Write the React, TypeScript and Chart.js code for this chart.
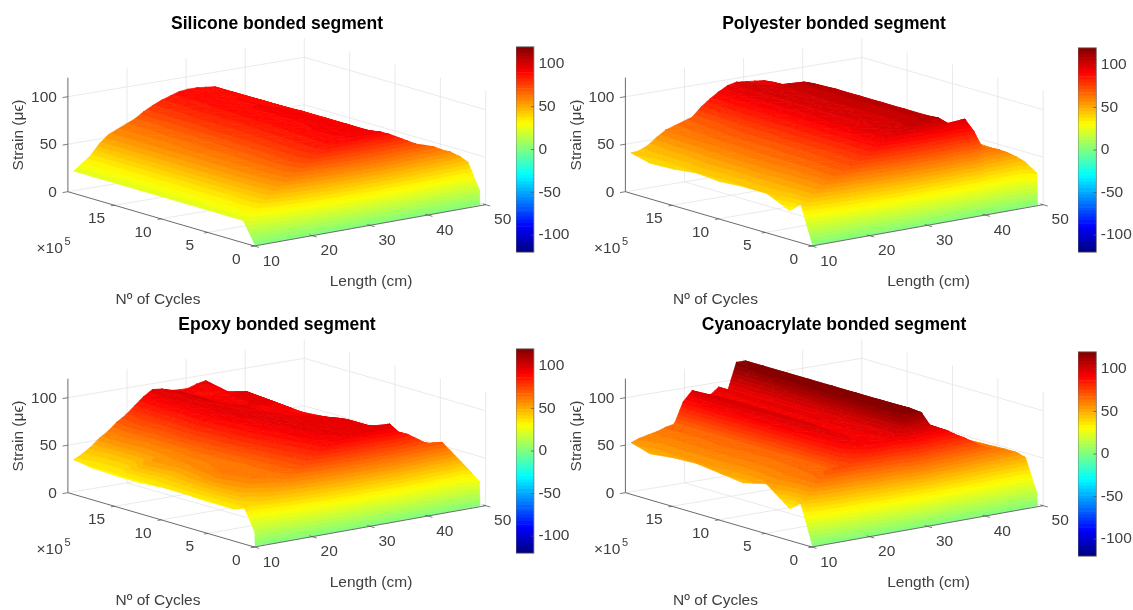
import React, { useEffect, useRef } from "react";
import { Chart, registerables } from "chart.js";

Chart.register(...registerables);

// ---------- data ----------
const lengthCm = [10.2, 11.5, 13, 14.5, 16, 17.5, 19, 20.5, 22, 23.5, 25, 26.5, 28, 29.5, 31, 32.5, 34, 35.5, 37, 38.5, 40, 41.5, 43, 44.5, 46, 47.5, 49];
const cyclesE5 = [0, 0.05, 1.3, 2.5, 5, 7.5, 10, 12.5, 15, 17.5, 19.5];

const lengthTicks = [10, 20, 30, 40, 50];
const cycleTicks = [0, 5, 10, 15];
const strainTicks = [0, 50, 100];
const colorTicks = [-100, -50, 0, 50, 100];

const startRow = [1, 1, 1, 1, 1, 1, 1, 1, 1, 1, 1, 1, 1, 1, 1, 1, 1, 1, 1, 1, 1, 1, 1, 1, 1, 1, 1];

const silicone = [
  startRow,
  [1, 1, 1, 1, 1, 1, 1, 1, 1, 1, 1, 1, 1, 1, 1, 1, 1, 1, 1, 1, 1, 1, 1, 1, 1, 5, 16],
  [23, 30, 37, 44, 52, 58, 64, 70, 76, 80, 84, 87, 89, 91, 92, 92, 90, 86, 81, 76, 71, 68, 65, 60, 56, 50, 42],
  [23, 30, 38, 46, 54, 60, 66, 72, 78, 82, 86, 88, 90, 91, 92, 91, 88, 82, 76, 71, 66, 62, 59, 55, 51, 46, 39],
  [23, 29, 37, 47, 55, 60, 66, 71, 77, 81, 85, 88, 90, 91, 91, 91, 88, 83, 77, 71, 66, 62, 58, 54, 50, 45, 38],
  [23, 29, 37, 47, 55, 60, 65, 70, 76, 80, 84, 87, 89, 90, 91, 90, 88, 83, 77, 71, 66, 61, 57, 53, 49, 45, 38],
  [23, 29, 36, 47, 55, 60, 65, 69, 75, 79, 83, 87, 89, 90, 90, 90, 88, 83, 77, 71, 66, 61, 57, 53, 49, 45, 38],
  [23, 29, 36, 47, 55, 60, 64, 68, 75, 79, 83, 86, 89, 90, 90, 89, 87, 83, 77, 71, 66, 61, 57, 53, 49, 45, 38],
  [23, 29, 36, 47, 55, 59, 64, 68, 74, 79, 83, 86, 88, 89, 90, 89, 87, 83, 77, 71, 66, 61, 57, 53, 49, 45, 38],
  [23, 29, 36, 47, 55, 59, 63, 67, 74, 78, 82, 85, 88, 89, 89, 88, 87, 82, 76, 71, 66, 61, 57, 52, 48, 43, 38],
  [23, 29, 36, 47, 55, 59, 63, 67, 73, 78, 82, 85, 88, 89, 89, 88, 87, 82, 76, 71, 66, 61, 57, 52, 48, 43, 38],
];

const polyester = [
  startRow,
  [1, 1, 1, 1, 1, 1, 1, 1, 1, 1, 1, 1, 1, 1, 1, 1, 1, 1, 1, 1, 1, 1, 1, 1, 4, 12, 34],
  [40, 45, 52, 58, 64, 68, 72, 76, 82, 88, 94, 98, 100, 103, 106, 106, 105, 98, 90, 99, 85, 66, 62, 60, 55, 49, 42],
  [30, 44, 52, 58, 64, 68, 72, 76, 82, 88, 94, 98, 99, 101, 104, 106, 104, 98, 92, 88, 82, 66, 62, 59, 55, 49, 42],
  [41, 46, 52, 58, 63, 67, 71, 75, 82, 88, 94, 97, 98, 100, 103, 106, 104, 98, 93, 89, 83, 68, 63, 60, 56, 50, 43],
  [41, 46, 53, 58, 63, 67, 70, 75, 82, 88, 94, 97, 99, 100, 103, 106, 104, 98, 93, 89, 84, 68, 63, 60, 57, 50, 43],
  [39, 45, 52, 58, 63, 66, 70, 75, 81, 87, 93, 97, 99, 101, 104, 106, 104, 98, 93, 89, 84, 69, 64, 61, 57, 51, 43],
  [41, 46, 52, 57, 62, 66, 70, 74, 81, 87, 93, 97, 99, 100, 103, 106, 104, 98, 93, 89, 84, 70, 65, 61, 57, 51, 43],
  [38, 44, 50, 56, 62, 65, 69, 73, 80, 87, 93, 97, 99, 100, 103, 106, 103, 97, 92, 88, 83, 70, 65, 61, 57, 51, 44],
  [37, 44, 49, 55, 61, 64, 67, 70, 79, 86, 92, 97, 99, 98, 97, 96, 93, 88, 84, 80, 76, 70, 66, 62, 58, 52, 44],
  [42, 43, 47, 54, 60, 63, 66, 69, 78, 85, 91, 96, 98, 97, 96, 95, 92, 88, 84, 80, 76, 70, 66, 62, 58, 52, 44],
];

const epoxy = [
  startRow,
  [15, 2, 1, 1, 1, 1, 1, 1, 1, 1, 1, 1, 1, 1, 1, 1, 1, 1, 1, 1, 1, 1, 1, 1, 2, 10, 26],
  [40, 36, 40, 46, 52, 60, 66, 72, 78, 84, 88, 92, 94, 95, 95, 96, 97, 98, 88, 84, 78, 72, 68, 69, 58, 47, 36],
  [33, 48, 56, 60, 62, 64, 68, 74, 80, 86, 90, 94, 96, 97, 97, 97, 94, 90, 84, 80, 76, 70, 66, 64, 56, 46, 38],
  [33, 56, 62, 62, 62, 64, 70, 78, 84, 90, 94, 96, 97, 97, 97, 97, 94, 86, 82, 78, 74, 69, 64, 62, 56, 47, 38],
  [34, 50, 58, 60, 62, 66, 74, 82, 88, 92, 95, 96, 95, 94, 94, 92, 90, 84, 80, 76, 72, 68, 63, 60, 55, 47, 38],
  [34, 44, 54, 58, 62, 68, 76, 84, 90, 94, 96, 95, 94, 92, 92, 89, 88, 82, 78, 75, 71, 66, 62, 58, 54, 46, 38],
  [32, 50, 54, 56, 60, 70, 78, 86, 92, 95, 97, 95, 94, 94, 95, 95, 90, 80, 76, 73, 70, 65, 60, 57, 53, 46, 38],
  [32, 38, 44, 54, 60, 68, 76, 84, 91, 96, 98, 93, 91, 92, 95, 97, 90, 80, 76, 73, 71, 66, 60, 57, 52, 46, 38],
  [33, 38, 44, 56, 62, 70, 76, 84, 92, 97, 98, 93, 90, 89, 89, 90, 86, 80, 76, 74, 73, 65, 58, 56, 50, 44, 36],
  [36, 40, 46, 54, 60, 68, 74, 82, 90, 96, 95, 92, 91, 91, 94, 96, 86, 81, 77, 74, 74, 70, 60, 56, 50, 45, 34],
];

const cyanoacrylate = [
  startRow,
  [1, 1, 1, 1, 1, 1, 1, 1, 1, 1, 1, 1, 1, 1, 1, 1, 1, 1, 1, 1, 1, 1, 1, 1, 1, 4, 14],
  [42, 52, 62, 68, 72, 74, 76, 82, 88, 92, 92, 96, 115, 118, 115, 100, 95, 91, 85, 80, 74, 68, 64, 62, 58, 55, 48],
  [33, 52, 60, 64, 66, 68, 84, 94, 92, 90, 93, 97, 118, 120, 116, 101, 96, 91, 85, 80, 74, 68, 64, 62, 58, 55, 48],
  [52, 56, 60, 63, 65, 67, 88, 98, 93, 90, 95, 96, 120, 120, 114, 101, 96, 91, 85, 80, 74, 68, 64, 61, 57, 54, 47],
  [46, 54, 58, 62, 64, 66, 90, 100, 94, 90, 96, 94, 120, 120, 112, 100, 95, 90, 84, 79, 73, 67, 63, 60, 56, 53, 46],
  [49, 54, 58, 62, 64, 66, 90, 100, 94, 90, 97, 93, 120, 120, 110, 99, 94, 89, 84, 78, 72, 66, 62, 60, 56, 52, 46],
  [52, 55, 58, 62, 65, 66, 90, 100, 92, 89, 97, 92, 120, 120, 108, 98, 93, 88, 83, 78, 72, 66, 62, 60, 55, 52, 45],
  [51, 55, 58, 62, 64, 66, 91, 100, 91, 89, 97, 92, 120, 120, 108, 98, 92, 88, 82, 77, 71, 65, 61, 59, 55, 51, 45],
  [48, 54, 58, 61, 64, 65, 90, 99, 90, 89, 97, 91, 120, 120, 107, 97, 92, 87, 82, 76, 70, 65, 61, 58, 54, 51, 44],
  [54, 57, 59, 61, 64, 66, 88, 98, 90, 90, 97, 91, 120, 120, 106, 97, 91, 86, 81, 75, 70, 64, 60, 58, 54, 50, 44],
];

// ---------- layout and style ----------
const FONT = "'Liberation Sans', Arial, sans-serif";
const TEXT = "#404040";
const GRID = "#e4e4e4";
const AXIS = "#5a5a5a";
const TITLE_SIZE = 17.5;
const TITLE_PAD = 14;
const TITLE_H = TITLE_PAD + TITLE_SIZE * 1.2;
const TICK_SIZE = 15.5;
const COLOR_MAX = 120;
const LEVELS = 64;
const Z_PX = 0.95;
// floor corners of the first panel, page pixels
const CORNER = { A: [67.9, 191.7], D: [304.3, 152.3], B: [254.3, 246], C: [485.7, 204.7] };

const panels = [
  { title: "Silicone bonded segment", grid: silicone, left: 0, top: 0, w: 554, h: 310, dx: 0, dy: 0, bar: [515.7, 45, 17.9, 209] },
  { title: "Polyester bonded segment", grid: polyester, left: 560, top: 0, w: 548, h: 310, dx: 557.5, dy: 0, bar: [1078.3, 45.7, 18.3, 208.6] },
  { title: "Epoxy bonded segment", grid: epoxy, left: 0, top: 301, w: 554, h: 309, dx: 0, dy: 301, bar: [515.7, 347.3, 17.9, 208] },
  { title: "Cyanoacrylate bonded segment", grid: cyanoacrylate, left: 560, top: 301, w: 548, h: 309, dx: 557.5, dy: 301, bar: [1077.5, 350, 18.3, 208.3] },
];

type P = (typeof panels)[number];

function jet(level: number) {
  const v = (level + 0.5) / LEVELS;
  const c = (t: number) => Math.round(255 * Math.max(0, Math.min(1, 1.5 - Math.abs(4 * v - t))));
  return `rgb(${c(3)},${c(2)},${c(1)})`;
}

function project(p: P, x: number, y: number, z: number) {
  const u = (x - 10) / 40;
  const v = 1 - y / 20;
  const at = (k: number) =>
    CORNER.A[k] * (1 - u) * (1 - v) + CORNER.D[k] * u * (1 - v) + CORNER.B[k] * (1 - u) * v + CORNER.C[k] * u * v;
  return { x: at(0) + p.dx - p.left, y: at(1) + p.dy - p.top - z * Z_PX };
}

type V = [number, number, number];

function clipZ(poly: V[], limit: number, above: boolean) {
  const out: V[] = [];
  const inside = (a: V) => (above ? a[2] >= limit : a[2] <= limit);
  for (let i = 0; i < poly.length; i++) {
    const a = poly[i];
    const b = poly[(i + 1) % poly.length];
    if (inside(a)) out.push(a);
    if (inside(a) !== inside(b)) {
      const t = (limit - a[2]) / (b[2] - a[2]);
      out.push([a[0] + t * (b[0] - a[0]), a[1] + t * (b[1] - a[1]), limit]);
    }
  }
  return out;
}

const levelOf = (z: number) =>
  Math.max(0, Math.min(LEVELS - 1, Math.floor(((z + COLOR_MAX) / (2 * COLOR_MAX)) * LEVELS)));

function polyDataset(points: { x: number; y: number }[], color: string, width: number, fill: boolean) {
  return {
    data: points,
    showLine: true,
    fill: fill ? "shape" : false,
    backgroundColor: color,
    borderColor: color,
    borderWidth: width,
    pointRadius: 0,
    tension: 0,
    clip: false,
    borderJoinStyle: "round",
  };
}

function triangleBands(p: P, tri: V[], out: any[]) {
  const zs = tri.map((t) => t[2]);
  const lo = levelOf(Math.min(...zs));
  const hi = levelOf(Math.max(...zs));
  for (let k = lo; k <= hi; k++) {
    let poly: V[] = tri;
    if (k > lo) poly = clipZ(poly, -COLOR_MAX + (k * 2 * COLOR_MAX) / LEVELS, true);
    if (k < hi) poly = clipZ(poly, -COLOR_MAX + ((k + 1) * 2 * COLOR_MAX) / LEVELS, false);
    if (poly.length < 3) continue;
    const pts = poly.map((q) => project(p, q[0], q[1], q[2]));
    pts.push(pts[0]);
    out.push(polyDataset(pts, jet(k), 0.7, true));
  }
}

function buildDatasets(p: P) {
  const back: any[] = [];
  const line = (a: number[], b: number[], color: string, width: number) =>
    back.push(polyDataset([project(p, a[0], a[1], a[2]), project(p, b[0], b[1], b[2])], color, width, false));

  // walls and floor
  for (const x of lengthTicks) {
    if (x > 10) line([x, 20, 0], [x, 20, COLOR_MAX], GRID, 0.8);
    if (x > 10 && x < 50) line([x, 0, 0], [x, 20, 0], GRID, 0.8);
  }
  for (const y of cycleTicks) {
    line([50, y, 0], [50, y, COLOR_MAX], GRID, 0.8);
    if (y > 0) line([10, y, 0], [50, y, 0], GRID, 0.8);
  }
  for (const z of strainTicks) {
    line([10, 20, z], [50, 20, z], GRID, 0.8);
    line([50, 20, z], [50, 0, z], GRID, 0.8);
  }

  // surface, far corner first
  const g = p.grid;
  for (let j = cyclesE5.length - 2; j >= 0; j--) {
    for (let i = lengthCm.length - 2; i >= 0; i--) {
      const v = (a: number, b: number): V => [lengthCm[a], cyclesE5[b], g[b][a]];
      triangleBands(p, [v(i + 1, j), v(i + 1, j + 1), v(i, j + 1)], back);
      triangleBands(p, [v(i, j), v(i + 1, j), v(i, j + 1)], back);
    }
  }

  // axes on top
  line([10, 20, 0], [10, 0, 0], AXIS, 0.9);
  line([10, 0, 0], [50, 0, 0], AXIS, 0.9);
  line([10, 20, 0], [10, 20, COLOR_MAX], AXIS, 0.9);
  for (const x of lengthTicks) line([x, -0.5, 0], [x, 0.3, 0], AXIS, 0.8);
  for (const y of cycleTicks) line([9.4, y, 0], [10.1, y, 0], AXIS, 0.8);
  for (const z of strainTicks) line([9.1, 20, z], [10, 20, z], AXIS, 0.8);

  return back.reverse();
}

const axisText = {
  id: "axisText",
  afterDraw(chart: any, _a: any, opts: any) {
    const p: P = opts.panel;
    const ctx = chart.ctx;
    const sx = chart.scales.x;
    const sy = chart.scales.y;
    const put = (s: string, px: number, py: number, align: CanvasTextAlign = "center", size = TICK_SIZE) => {
      ctx.font = `${size}px ${FONT}`;
      ctx.fillStyle = TEXT;
      ctx.textAlign = align;
      ctx.textBaseline = "middle";
      ctx.fillText(s, sx.getPixelForValue(px), sy.getPixelForValue(py));
    };
    ctx.save();
    for (const x of lengthTicks) {
      const q = project(p, x, 0, 0);
      put(String(x), q.x + 17, q.y + 15.5);
    }
    for (const y of cycleTicks) {
      const q = project(p, 10, y, 0);
      put(String(y), q.x - 18, q.y + 13.5);
    }
    for (const z of strainTicks) {
      const q = project(p, 10, 20, z);
      put(String(z), q.x - 11, q.y + 1, "right");
    }
    const ox = p.dx - p.left;
    const oy = p.dy - p.top;
    put("×10", 36.5 + ox, 249 + oy, "left");
    put("5", 67.5 + ox, 242 + oy, "center", 11);
    put("Length (cm)", 371 + ox, 281.5 + oy);
    put("Nº of Cycles", 158 + ox, 300 + oy);
    ctx.save();
    ctx.translate(sx.getPixelForValue(19 + ox), sy.getPixelForValue(135 + oy));
    ctx.rotate(-Math.PI / 2);
    ctx.font = `${TICK_SIZE}px ${FONT}`;
    ctx.fillStyle = TEXT;
    ctx.textAlign = "center";
    ctx.textBaseline = "middle";
    ctx.fillText("Strain (μϵ)", 0, 0);
    ctx.restore();
    ctx.restore();
  },
};

const barFrame = {
  id: "barFrame",
  afterDraw(chart: any) {
    const { left, top, width, height } = chart.chartArea;
    const ctx = chart.ctx;
    ctx.save();
    ctx.strokeStyle = "#707070";
    ctx.lineWidth = 0.8;
    ctx.strokeRect(left, top, width, height);
    ctx.restore();
    const y = chart.scales.y;
    ctx.save();
    ctx.strokeStyle = "#505050";
    ctx.lineWidth = 0.7;
    for (const t of colorTicks) {
      const py = y.getPixelForValue(t);
      ctx.beginPath();
      ctx.moveTo(left + width - 3, py);
      ctx.lineTo(left + width, py);
      ctx.stroke();
    }
    ctx.restore();
  },
};

const BAR_PAD = 12;
const BAR_CANVAS_W = 58;

function makeBar(canvas: HTMLCanvasElement, p: P) {
  const levels = Array.from({ length: LEVELS }, (_, k) => k);
  const step = (2 * COLOR_MAX) / LEVELS;
  return new Chart(canvas, {
    type: "bar",
    data: {
      labels: [""],
      datasets: levels.map((k) => ({
        data: [[-COLOR_MAX + k * step, -COLOR_MAX + (k + 1) * step]],
        backgroundColor: jet(k),
        borderWidth: 0,
        grouped: false,
        barPercentage: 1,
        categoryPercentage: 1,
      })),
    } as any,
    options: {
      responsive: false,
      animation: false,
      events: [],
      layout: { padding: { top: BAR_PAD, bottom: BAR_PAD, left: 0, right: 0 } },
      plugins: { legend: { display: false }, tooltip: { enabled: false }, title: { display: false } },
      scales: {
        x: { display: false, grid: { display: false } },
        y: {
          position: "right",
          min: -COLOR_MAX,
          max: COLOR_MAX,
          afterBuildTicks: (s: any) => {
            s.ticks = colorTicks.map((value) => ({ value }));
          },
          afterFit: (s: any) => {
            s.width = BAR_CANVAS_W - p.bar[2];
          },
          grid: { display: false, drawTicks: false },
          border: { display: false },
          ticks: { padding: 4.5, color: TEXT, font: { family: FONT, size: TICK_SIZE }, align: "center" },
        },
      },
    } as any,
    plugins: [barFrame],
  });
}

function makeAxes(canvas: HTMLCanvasElement, p: P) {
  return new Chart(canvas, {
    type: "scatter",
    data: { datasets: buildDatasets(p) } as any,
    options: {
      responsive: false,
      animation: false,
      events: [],
      layout: { padding: 0 },
      plugins: {
        legend: { display: false },
        tooltip: { enabled: false },
        title: {
          display: true,
          text: p.title,
          color: "#000000",
          font: { family: FONT, size: TITLE_SIZE, weight: "bold" },
          padding: { top: TITLE_PAD, bottom: 0 },
        },
        axisText: { panel: p },
      },
      scales: {
        x: { type: "linear", display: false, min: 0, max: p.w },
        y: { type: "linear", display: false, reverse: true, min: TITLE_H, max: p.h },
      },
    } as any,
    plugins: [axisText],
  });
}

export default function App() {
  const axesRefs = useRef<(HTMLCanvasElement | null)[]>([]);
  const barRefs = useRef<(HTMLCanvasElement | null)[]>([]);

  useEffect(() => {
    const charts = panels.flatMap((p, i) => [
      makeAxes(axesRefs.current[i] as HTMLCanvasElement, p),
      makeBar(barRefs.current[i] as HTMLCanvasElement, p),
    ]);
    return () => charts.forEach((c) => c.destroy());
  }, []);

  return (
    <div style={{ position: "absolute", left: 0, top: 0, width: 1133, height: 610, overflow: "hidden", background: "#fff", filter: "blur(0.35px)" }}>
      {panels.map((p, i) => (
        <React.Fragment key={p.title}>
          <canvas
            ref={(el) => {
              axesRefs.current[i] = el;
            }}
            width={p.w}
            height={p.h}
            style={{ position: "absolute", left: p.left, top: p.top, width: p.w, height: p.h }}
          />
          <canvas
            ref={(el) => {
              barRefs.current[i] = el;
            }}
            width={BAR_CANVAS_W}
            height={p.bar[3] + 2 * BAR_PAD}
            style={{ position: "absolute", left: p.bar[0], top: p.bar[1] - BAR_PAD, width: BAR_CANVAS_W, height: p.bar[3] + 2 * BAR_PAD }}
          />
        </React.Fragment>
      ))}
    </div>
  );
}
